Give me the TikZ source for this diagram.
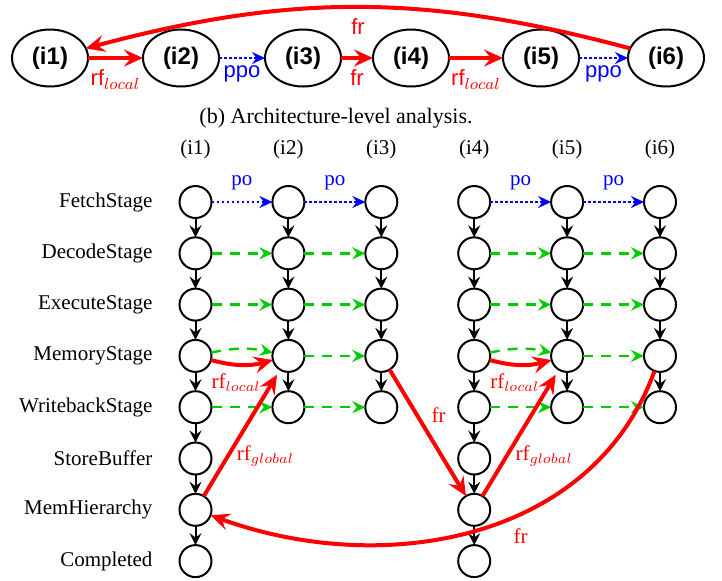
\documentclass[tikz,border=0pt]{standalone}
\usepackage{fontspec}
\setmainfont{Liberation Serif}
\setsansfont{Liberation Sans}
\usetikzlibrary{positioning,shapes.geometric,arrows.meta}
\definecolor{stagegreen}{RGB}{0,205,0}

\begin{document}
\begin{tikzpicture}[node distance=9.65pt and 30.45pt, font=\fontsize{10.5}{12.6}\selectfont]
    \tikzstyle{main}=[ellipse, minimum width=38pt, minimum height=28.5pt, inner sep=1pt, outer sep=0pt, line width=1pt, draw=black, font=\sffamily\bfseries\large]
    \tikzstyle{stage}=[circle, minimum size=16pt, inner sep=0pt, outer sep=0pt, line width=1pt, draw=black]
    \tikzstyle{connect}=[-{Stealth[length=6pt, width=6pt, inset=2.2pt]}, line width=1pt]
    \tikzstyle{order}=[-{Stealth[length=6.5pt, width=6pt, inset=2.2pt]}, line width=1.3pt, blue, dash pattern=on 1.3pt off 1.2pt]
    \tikzstyle{pipe}=[-{Stealth[length=6.5pt, width=6pt, inset=2.2pt]}, line width=1.2pt, stagegreen, dash pattern=on 5pt off 4pt]
    \tikzstyle{rel}=[-{Stealth[length=9.5pt, width=8.5pt, inset=3.5pt]}, line width=2pt, red]
    \tikzstyle{toplabel}=[font=\sffamily\fontsize{11}{13}\selectfont, below=1.5pt]

    \useasboundingbox (0,0) rectangle (361pt,-290pt);

    % instruction-level graph
    \node[main] (i1) at (25pt,-29pt) {(i1)};
    \node[main] (i2) [right=27.5pt of i1] {(i2)};
    \node[main] (i3) [right=23pt of i2] {(i3)};
    \node[main] (i4) [right=16pt of i3] {(i4)};
    \node[main] (i5) [right=27pt of i4] {(i5)};
    \node[main] (i6) [right=24.5pt of i5] {(i6)};
    \path
      (i1) edge [rel] node[toplabel] {rf$_{local}$} (i2)
      (i2) edge [order] node[toplabel, below=0pt] {ppo} (i3)
      (i3) edge [rel] node[toplabel] {fr} (i4)
      (i4) edge [rel] node[toplabel] {rf$_{local}$} (i5)
      (i5) edge [order] node[toplabel, below=0pt] {ppo} (i6)
      (i6) edge [rel, bend right=15] node[toplabel] {fr} (i1);

    \node[font=\fontsize{11}{13}\selectfont] (caption) at (168pt,-59pt) {(b) Architecture-level analysis.};

    % pipeline stages, i1
    \node[stage] (f1) at (97.75pt,-101pt) {};
    \node[stage] (d1) [below=of f1] {};
    \node[stage] (e1) [below=of d1] {};
    \node[stage] (m1) [below=of e1] {};
    \node[stage] (w1) [below=of m1] {};
    \node[stage] (s1) [below=of w1] {};
    \node[stage] (h1) [below=of s1] {};
    \node[stage] (c1) [below=of h1] {};
    % i2
    \node[stage] (f2) [right=of f1] {};
    \node[stage] (d2) [right=of d1] {};
    \node[stage] (e2) [right=of e1] {};
    \node[stage] (m2) [right=of m1] {};
    \node[stage] (w2) [right=of w1] {};
    % i3
    \node[stage] (f3) [right=of f2] {};
    \node[stage] (d3) [right=of d2] {};
    \node[stage] (e3) [right=of e2] {};
    \node[stage] (m3) [right=of m2] {};
    \node[stage] (w3) [right=of w2] {};
    % i4
    \node[stage] (f4) [right=of f3] {};
    \node[stage] (d4) [right=of d3] {};
    \node[stage] (e4) [right=of e3] {};
    \node[stage] (m4) [right=of m3] {};
    \node[stage] (w4) [right=of w3] {};
    \node[stage] (s4) [below=of w4] {};
    \node[stage] (h4) [below=of s4] {};
    \node[stage] (c4) [below=of h4] {};
    % i5
    \node[stage] (f5) [right=of f4] {};
    \node[stage] (d5) [right=of d4] {};
    \node[stage] (e5) [right=of e4] {};
    \node[stage] (m5) [right=of m4] {};
    \node[stage] (w5) [right=of w4] {};
    % i6
    \node[stage] (f6) [right=of f5] {};
    \node[stage] (d6) [right=of d5] {};
    \node[stage] (e6) [right=of e5] {};
    \node[stage] (m6) [right=of m5] {};
    \node[stage] (w6) [right=of w5] {};

    % column and row labels
    \node (col1) [above=10pt of f1] {(i1)};
    \node (col2) [above=10pt of f2] {(i2)};
    \node (col3) [above=10pt of f3] {(i3)};
    \node (col4) [above=10pt of f4] {(i4)};
    \node (col5) [above=10pt of f5] {(i5)};
    \node (col6) [above=10pt of f6] {(i6)};
    \node (fetch) [left=10pt of f1] {FetchStage};
    \node (decode) [left=10pt of d1] {DecodeStage};
    \node (execute) [left=10pt of e1] {ExecuteStage};
    \node (memory) [left=10pt of m1] {MemoryStage};
    \node (writeback) [left=10pt of w1] {WritebackStage};
    \node (storebuf) [left=10pt of s1] {StoreBuffer};
    \node (memhier) [left=10pt of h1] {MemHierarchy};
    \node (completed) [left=10pt of c1] {Completed};

    \path
      (f1) edge [connect] (d1)
      (d1) edge [connect] (e1)
      (e1) edge [connect] (m1)
      (m1) edge [connect] (w1)
      (w1) edge [connect] (s1)
      (s1) edge [connect] (h1)
      (h1) edge [connect] (c1)
      (f2) edge [connect] (d2)
      (d2) edge [connect] (e2)
      (e2) edge [connect] (m2)
      (m2) edge [connect] (w2)
      (f3) edge [connect] (d3)
      (d3) edge [connect] (e3)
      (e3) edge [connect] (m3)
      (m3) edge [connect] (w3)
      (f4) edge [connect] (d4)
      (d4) edge [connect] (e4)
      (e4) edge [connect] (m4)
      (m4) edge [connect] (w4)
      (w4) edge [connect] (s4)
      (s4) edge [connect] (h4)
      (h4) edge [connect] (c4)
      (f5) edge [connect] (d5)
      (d5) edge [connect] (e5)
      (e5) edge [connect] (m5)
      (m5) edge [connect] (w5)
      (f6) edge [connect] (d6)
      (d6) edge [connect] (e6)
      (e6) edge [connect] (m6)
      (m6) edge [connect] (w6);

    \path
      (f1) edge [order] node[above=2pt] {po} (f2)
      (f2) edge [order] node[above=2pt] {po} (f3)
      (f4) edge [order] node[above=2pt] {po} (f5)
      (f5) edge [order] node[above=2pt] {po} (f6)
      (d1) edge [pipe] (d2)
      (d2) edge [pipe] (d3)
      (d4) edge [pipe] (d5)
      (d5) edge [pipe] (d6)
      (e1) edge [pipe] (e2)
      (e2) edge [pipe] (e3)
      (e4) edge [pipe] (e5)
      (e5) edge [pipe] (e6)
      (m1) edge [pipe, bend left=12] (m2)
      (m2) edge [pipe] (m3)
      (m4) edge [pipe, bend left=12] (m5)
      (m5) edge [pipe] (m6)
      (w1) edge [pipe] (w2)
      (w2) edge [pipe] (w3)
      (w4) edge [pipe] (w5)
      (w5) edge [pipe] (w6);

    \path
      (m1) edge [rel, bend right=15] node[pos=0.4, below] {rf$_{local}$} (m2)
      (m4) edge [rel, bend right=15] node[pos=0.4, below] {rf$_{local}$} (m5)
      (h1) edge [rel, shorten >=3pt] node[pos=0.32, right] {rf$_{global}$} (m2)
      (h4) edge [rel, shorten >=3pt] node[pos=0.32, right] {rf$_{global}$} (m5)
      (m3) edge [rel] node[pos=0.36, right=3pt] {fr} (h4)
      (m6) edge [rel, out=250, in=-20] node[pos=0.4, below=3pt] {fr} (h1);

    % \node[fit=(f1) (c1)] {};
\end{tikzpicture}
\end{document}
